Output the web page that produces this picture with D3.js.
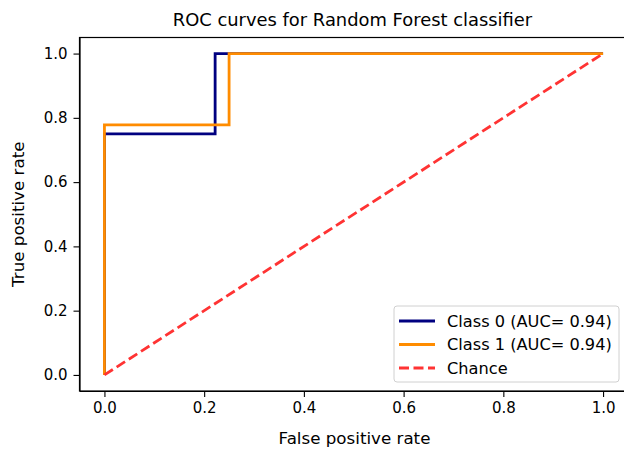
<!DOCTYPE html>
<html>
<head>
<meta charset="utf-8">
<script src="https://cdn.jsdelivr.net/npm/d3@7"></script>
<style>
  body { margin: 0; background: #fff; }
  svg { font-family: "DejaVu Sans", sans-serif; }
</style>
</head>
<body>
<div id="chart"></div>
<script>
// ROC curve points
var class0Fpr = [0, 0, 0.222, 0.222, 1];
var class0Tpr = [0, 0.75, 0.75, 1, 1];
var class1Fpr = [0, 0, 0.25, 0.25, 1];
var class1Tpr = [0, 0.778, 0.778, 1, 1];
var chanceFpr = [0, 1];
var chanceTpr = [0, 1];
var ticks = [0, 0.2, 0.4, 0.6, 0.8, 1.0];
var legendLabels = ["Class 0 (AUC= 0.94)", "Class 1 (AUC= 0.94)", "Chance"];

var svgWidth = 624;
var svgHeight = 449;
var margin = { top: 37.5, right: -4, bottom: 58, left: 79.5 };
var width = svgWidth - margin.left - margin.right;
var height = svgHeight - margin.top - margin.bottom;

var svg = d3.select("#chart")
  .append("svg")
  .attr("width", svgWidth)
  .attr("height", svgHeight);

var chartGroup = svg.append("g")
  .attr("transform", `translate(${margin.left}, ${margin.top})`);

var xScale = d3.scaleLinear().domain([-0.05, 1.05]).range([0, width]);
var yScale = d3.scaleLinear().domain([-0.05, 1.05]).range([height, 0]);

// axes
var xAxis = chartGroup.append("g")
  .attr("transform", `translate(0, ${height})`)
  .call(d3.axisBottom(xScale).tickValues(ticks).tickFormat(d3.format(".1f"))
    .tickSizeInner(6).tickSizeOuter(0).tickPadding(5));
var yAxis = chartGroup.append("g")
  .call(d3.axisLeft(yScale).tickValues(ticks).tickFormat(d3.format(".1f"))
    .tickSizeInner(6).tickSizeOuter(0).tickPadding(6));

[xAxis, yAxis].forEach(function(ax) {
  ax.attr("font-family", null);
  ax.selectAll("text").style("font-size", "15px").attr("fill", "#000");
  ax.selectAll("line").attr("stroke", "#000").attr("stroke-width", 1.1);
  ax.select(".domain").attr("stroke", "#000").attr("stroke-width", 1.2);
});

// frame (top & right)
chartGroup.append("rect")
  .attr("width", width).attr("height", height)
  .attr("fill", "none").attr("stroke", "#000").attr("stroke-width", 1.2);

var line = d3.line()
  .x(d => xScale(d[0]))
  .y(d => yScale(d[1]));

var series = [
  { fpr: class0Fpr, tpr: class0Tpr, color: "#000080", dash: null },
  { fpr: class1Fpr, tpr: class1Tpr, color: "#ff8c00", dash: null },
  { fpr: chanceFpr, tpr: chanceTpr, color: "#ff3333", dash: "10,4.5" }
];

series.forEach(function(s) {
  chartGroup.append("path")
    .datum(d3.zip(s.fpr, s.tpr))
    .attr("d", line)
    .attr("fill", "none")
    .attr("stroke", s.color)
    .attr("stroke-width", 2.8)
    .attr("stroke-dasharray", s.dash);
});

// title and axis labels
svg.append("text")
  .attr("x", 352.5)
  .attr("y", 25.5)
  .attr("text-anchor", "middle")
  .style("font-size", "17.9px")
  .text("ROC curves for Random Forest classifier");

svg.append("text")
  .attr("x", 354.5)
  .attr("y", 444)
  .attr("text-anchor", "middle")
  .style("font-size", "16.7px")
  .text("False positive rate");

svg.append("text")
  .attr("transform", `translate(24, ${margin.top + height / 2}) rotate(-90)`)
  .attr("text-anchor", "middle")
  .style("font-size", "16.7px")
  .text("True positive rate");

// legend
var legend = svg.append("g").attr("transform", "translate(394, 306)");
legend.append("rect")
  .attr("width", 225).attr("height", 76)
  .attr("rx", 3)
  .attr("fill", "#fff").attr("fill-opacity", 0.8)
  .attr("stroke", "#d0d0d0");

series.forEach(function(s, i) {
  var y = 15 + i * 23.5;
  legend.append("line")
    .attr("x1", 5).attr("x2", 41)
    .attr("y1", y).attr("y2", y)
    .attr("stroke", s.color)
    .attr("stroke-width", 2.8)
    .attr("stroke-dasharray", s.dash);
  legend.append("text")
    .attr("x", 53).attr("y", y + 5.5)
    .style("font-size", "16.2px")
    .text(legendLabels[i]);
});
</script>
</body>
</html>
